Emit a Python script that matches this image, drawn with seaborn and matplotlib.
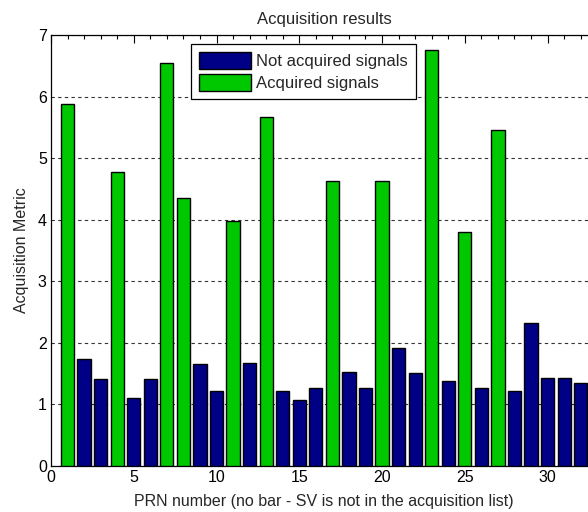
import matplotlib
matplotlib.use("Agg")
import matplotlib.pyplot as plt
import seaborn as sns
import pandas as pd
from matplotlib.ticker import MultipleLocator

# Acquisition metric per satellite PRN
prn = list(range(1, 33))
metric = [5.88, 1.74, 1.41, 4.78, 1.11, 1.41, 6.55, 4.36,
          1.65, 1.22, 3.98, 1.67, 5.66, 1.22, 1.07, 1.27,
          4.63, 1.53, 1.27, 4.62, 1.92, 1.51, 6.76, 1.38,
          3.80, 1.27, 5.46, 1.22, 2.33, 1.43, 1.43, 1.35]
acquired_prn = [1, 4, 7, 8, 11, 13, 17, 20, 23, 25, 27]

labels = ["Not acquired signals", "Acquired signals"]
colors = ["#000087", "#00C800"]

status = [labels[1] if p in acquired_prn else labels[0] for p in prn]
df = pd.DataFrame({"prn": prn, "metric": metric, "status": status})

sns.set_style("white")
plt.rcParams["font.family"] = ["Liberation Sans", "DejaVu Sans"]

fig = plt.figure(figsize=(5.88, 5.12), dpi=100)
ax = fig.add_axes([0.0867, 0.0898, 0.929, 0.842])

sns.barplot(data=df, x="prn", y="metric", hue="status", hue_order=labels,
            palette=dict(zip(labels, colors)), saturation=1,
            native_scale=True, dodge=False, width=0.8, edgecolor="black",
            linewidth=1.0, errorbar=None, ax=ax, zorder=3)

ax.set_xlim(0, 33)
ax.set_ylim(0, 7)
ax.xaxis.set_major_locator(MultipleLocator(5))
ax.xaxis.set_minor_locator(MultipleLocator(1))
ax.yaxis.set_major_locator(MultipleLocator(1))
ax.tick_params(axis="both", which="both", direction="in", top=True,
               right=True, labelsize=11.5, colors="black", pad=3)
ax.tick_params(axis="both", which="major", length=6, width=0.8)
ax.tick_params(axis="x", which="minor", length=3, width=0.8)

ax.yaxis.grid(True, linestyle=(0, (3, 3)), color="#333333", linewidth=0.8)
ax.set_axisbelow(True)
for s in ax.spines.values():
    s.set_color("black")
    s.set_linewidth(0.9)

ax.set_title("Acquisition results", fontsize=12, pad=8)
ax.set_xlabel("PRN number (no bar - SV is not in the acquisition list)",
              fontsize=11.5, labelpad=6)
ax.set_ylabel("Acquisition Metric", fontsize=11.5, labelpad=6)

leg = ax.legend(loc="upper left", bbox_to_anchor=(0.256, 0.979),
                fontsize=12, frameon=True, fancybox=False, framealpha=1,
                edgecolor="black", borderpad=0.5, handlelength=3.1,
                handleheight=1.15, handletextpad=0.3, labelspacing=0.3,
                borderaxespad=0)
leg.get_frame().set_linewidth(0.9)
leg.set_zorder(5)

fig.savefig("out.png", dpi=100)
